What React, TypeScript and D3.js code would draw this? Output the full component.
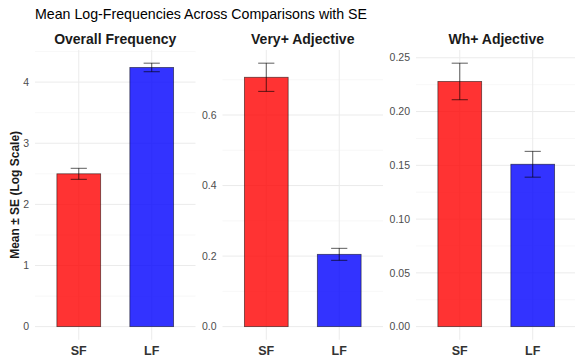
import React from "react";
import * as d3 from "d3";

// values
const groups = ["SF", "LF"];
const panelTitles = ["Overall Frequency", "Very+ Adjective", "Wh+ Adjective"];
const overallMean = [2.5, 4.24];
const overallSE = [0.09, 0.07];
const veryMean = [0.707, 0.205];
const verySE = [0.04, 0.017];
const whMean = [0.228, 0.151];
const whSE = [0.017, 0.012];
const tickLabels = [
  ["0", "1", "2", "3", "4"],
  ["0.0", "0.2", "0.4", "0.6"],
  ["0.00", "0.05", "0.10", "0.15", "0.20", "0.25"],
];
const barColors = ["#ff0000", "#0000ff"];

const W = 575;
const H = 357;
const FONT = "'Liberation Sans', Arial, sans-serif";
const top = 50;
const bottom = 339.8;
const panelLeft = [35, 222.5, 416];
const panelW = 160.5;

const means = [overallMean, veryMean, whMean];
const ses = [overallSE, verySE, whSE];

function Panel({ idx }: { idx: number }) {
  const m = means[idx];
  const s = ses[idx];
  const hi = d3.max(m.map((v, i) => v + s[i])) as number;
  const y = d3.scaleLinear().domain([-0.05 * hi, 1.05 * hi]).range([bottom, top]);
  const x0 = panelLeft[idx];
  const x = d3
    .scaleBand()
    .domain(groups)
    .range([x0, x0 + panelW])
    .paddingInner(0.4)
    .paddingOuter(0.3);
  const majors = tickLabels[idx].map(Number);
  const step = majors[1] - majors[0];
  const [dlo, dhi] = y.domain();
  const minors = [majors[0] - step / 2, ...majors.map((v) => v + step / 2)].filter(
    (v) => v > dlo && v < dhi
  );
  const bw = x.bandwidth();
  const errW = bw * 0.37;
  return (
    <g>
      {minors.map((v) => (
        <line key={"mi" + v} x1={x0} x2={x0 + panelW} y1={y(v)} y2={y(v)} stroke="#f2f2f2" strokeWidth={0.6} />
      ))}
      {majors.map((v) => (
        <line key={"ma" + v} x1={x0} x2={x0 + panelW} y1={y(v)} y2={y(v)} stroke="#ebebeb" strokeWidth={1} />
      ))}
      {groups.map((g) => (
        <line key={"vg" + g} x1={(x(g) as number) + bw / 2} x2={(x(g) as number) + bw / 2} y1={top} y2={bottom} stroke="#ebebeb" strokeWidth={1} />
      ))}
      {majors.map((v, i) => (
        <text key={"tl" + v} x={x0 - 6} y={y(v)} dy="0.35em" textAnchor="end" fontSize={10.5} fill="#4d4d4d" fontFamily={FONT}>
          {tickLabels[idx][i]}
        </text>
      ))}
      {groups.map((g, i) => (
        <rect
          key={"b" + g}
          x={x(g)}
          y={y(m[i])}
          width={bw}
          height={y(0) - y(m[i])}
          fill={barColors[i]}
          fillOpacity={0.8}
          stroke="#000"
          strokeOpacity={0.6}
          strokeWidth={0.8}
        />
      ))}
      {groups.map((g, i) => {
        const cx = (x(g) as number) + bw / 2;
        return (
          <g key={"e" + g} stroke="#000" strokeOpacity={0.8} strokeWidth={0.8}>
            <line x1={cx} x2={cx} y1={y(m[i] + s[i])} y2={y(m[i] - s[i])} />
            <line x1={cx - errW / 2} x2={cx + errW / 2} y1={y(m[i] + s[i])} y2={y(m[i] + s[i])} />
            <line x1={cx - errW / 2} x2={cx + errW / 2} y1={y(m[i] - s[i])} y2={y(m[i] - s[i])} />
          </g>
        );
      })}
      {groups.map((g) => (
        <text key={"xl" + g} x={(x(g) as number) + bw / 2} y={354.5} textAnchor="middle" fontSize={12.5} fontWeight="bold" fill="#333" fontFamily={FONT}>
          {g}
        </text>
      ))}
      <text x={x0 + panelW / 2} y={43.5} textAnchor="middle" fontSize={14} fontWeight="bold" fill="#1a1a1a" fontFamily={FONT}>
        {panelTitles[idx]}
      </text>
    </g>
  );
}

export default function App() {
  return (
    <svg width={W} height={H} style={{ display: "block", position: "absolute", left: 0, top: 0 }}>
      <rect width={W} height={H} fill="#fff" />
      <text x={35} y={18.5} fontSize={14.2} fill="#000" fontFamily={FONT}>
        Mean Log-Frequencies Across Comparisons with SE
      </text>
      <text
        transform={`translate(14.5,${(top + bottom) / 2}) rotate(-90)`}
        textAnchor="middle"
        dy="0.35em"
        fontSize={12}
        fontWeight="bold"
        fill="#1a1a1a"
        fontFamily={FONT}
      >
        Mean ± SE (Log Scale)
      </text>
      {[0, 1, 2].map((i) => (
        <Panel key={i} idx={i} />
      ))}
    </svg>
  );
}
